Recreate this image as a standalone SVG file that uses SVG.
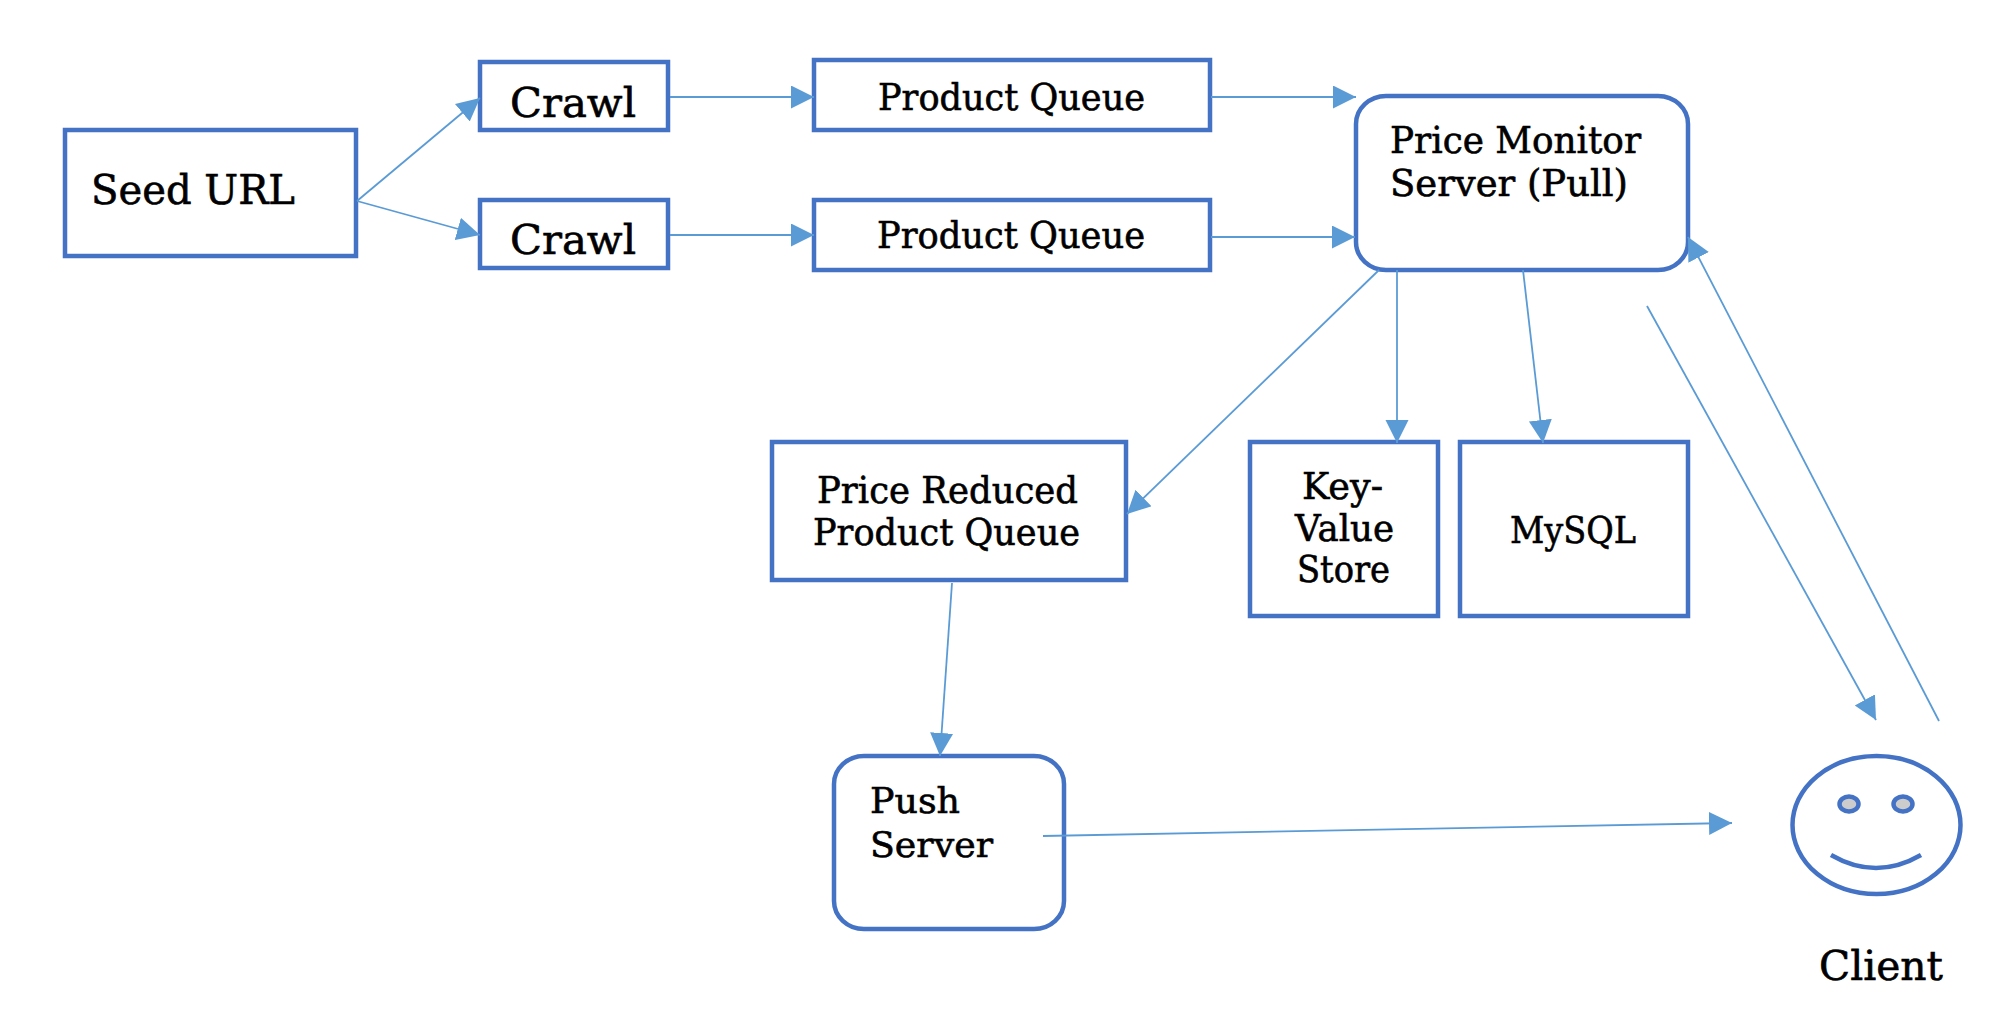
<svg xmlns="http://www.w3.org/2000/svg" width="2014" height="1018" viewBox="0 0 2014 1018">
<style>
.b{fill:#fff;stroke:#4472C4;stroke-width:4.5}
.c{fill:none;stroke:#5B9BD5;stroke-width:1.8;marker-end:url(#a)}
text{font-family:"DejaVu Serif","Liberation Serif",serif;fill:#000;stroke:#000;stroke-width:.6}
.l{font-size:41px}.m{font-size:37px}.p{font-size:36px}
</style>
<defs><marker id="a" markerUnits="userSpaceOnUse" markerWidth="24" markerHeight="24" refX="23" refY="11.5" orient="auto"><path d="M0 0L23 11.5L0 23Z" fill="#5B9BD5"/></marker></defs>
<rect width="2014" height="1018" fill="#fff"/>
<g id="seed"><rect class="b" x="65" y="130" width="291" height="126"/><text class="l" x="91" y="204" textLength="204" lengthAdjust="spacingAndGlyphs">Seed URL</text></g>
<g id="crawl1"><rect class="b" x="480" y="62" width="188" height="68"/><text class="l" x="510" y="117" textLength="126" lengthAdjust="spacingAndGlyphs">Crawl</text></g>
<g id="crawl2"><rect class="b" x="480" y="200" width="188" height="68"/><text class="l" x="510" y="254" textLength="126" lengthAdjust="spacingAndGlyphs">Crawl</text></g>
<g id="pq1"><rect class="b" x="814" y="60" width="396" height="70"/><text class="m" x="878" y="110" textLength="267" lengthAdjust="spacingAndGlyphs">Product Queue</text></g>
<g id="pq2"><rect class="b" x="814" y="200" width="396" height="70"/><text class="m" x="877" y="248" textLength="268" lengthAdjust="spacingAndGlyphs">Product Queue</text></g>
<g id="server"><rect class="b" x="1356" y="96" width="332" height="174" rx="30" ry="28"/><text class="m" x="1390" y="153" textLength="251" lengthAdjust="spacingAndGlyphs">Price Monitor</text><text class="m" x="1390" y="196" textLength="238" lengthAdjust="spacingAndGlyphs">Server (Pull)</text></g>
<g id="reduced"><rect class="b" x="772" y="442" width="354" height="138"/><text class="m" x="817" y="503" textLength="261" lengthAdjust="spacingAndGlyphs">Price Reduced</text><text class="m" x="813" y="545" textLength="267" lengthAdjust="spacingAndGlyphs">Product Queue</text></g>
<g id="kv"><rect class="b" x="1250" y="442" width="188" height="174"/><text class="m" x="1302" y="499" textLength="81" lengthAdjust="spacingAndGlyphs">Key-</text><text class="m" x="1295" y="541" textLength="99" lengthAdjust="spacingAndGlyphs">Value</text><text class="m" x="1297" y="582" textLength="93" lengthAdjust="spacingAndGlyphs">Store</text></g>
<g id="mysql"><rect class="b" x="1460" y="442" width="228" height="174"/><text class="m" x="1510" y="543" textLength="126" lengthAdjust="spacingAndGlyphs">MySQL</text></g>
<g id="push"><rect class="b" x="834" y="756" width="230" height="173" rx="30" ry="28"/><text class="p" x="870" y="813" textLength="90" lengthAdjust="spacingAndGlyphs">Push</text><text class="p" x="870" y="857" textLength="123" lengthAdjust="spacingAndGlyphs">Server</text></g>
<g id="client"><ellipse cx="1876.5" cy="825" rx="84" ry="69" fill="#fff" stroke="#4472C4" stroke-width="4.5"/><ellipse cx="1849" cy="804" rx="9.5" ry="7.5" fill="#ccc" stroke="#4472C4" stroke-width="4.5"/><ellipse cx="1903" cy="804" rx="9.5" ry="7.5" fill="#ccc" stroke="#4472C4" stroke-width="4.5"/><path d="M1831 855Q1876 881 1921 855" fill="none" stroke="#4472C4" stroke-width="4.5"/><text class="l" x="1819" y="980" textLength="124" lengthAdjust="spacingAndGlyphs">Client</text></g>
<g id="connectors">
<path class="c" d="M357 201L480 98"/>
<path class="c" d="M357 201L480 235"/>
<path class="c" d="M670 97L814 97"/>
<path class="c" d="M670 235L814 235"/>
<path class="c" d="M1211 97L1356 97"/>
<path class="c" d="M1211 237L1355 237"/>
<path class="c" d="M1379 270L1127 514"/>
<path class="c" d="M1397 270L1397 443"/>
<path class="c" d="M1523 270L1543 443"/>
<path class="c" d="M1647 306L1876 720"/>
<path class="c" d="M1939 721L1688 237"/>
<path class="c" d="M952 583L940 756"/>
<path class="c" d="M1043 836L1732 823"/>
</g>
</svg>
